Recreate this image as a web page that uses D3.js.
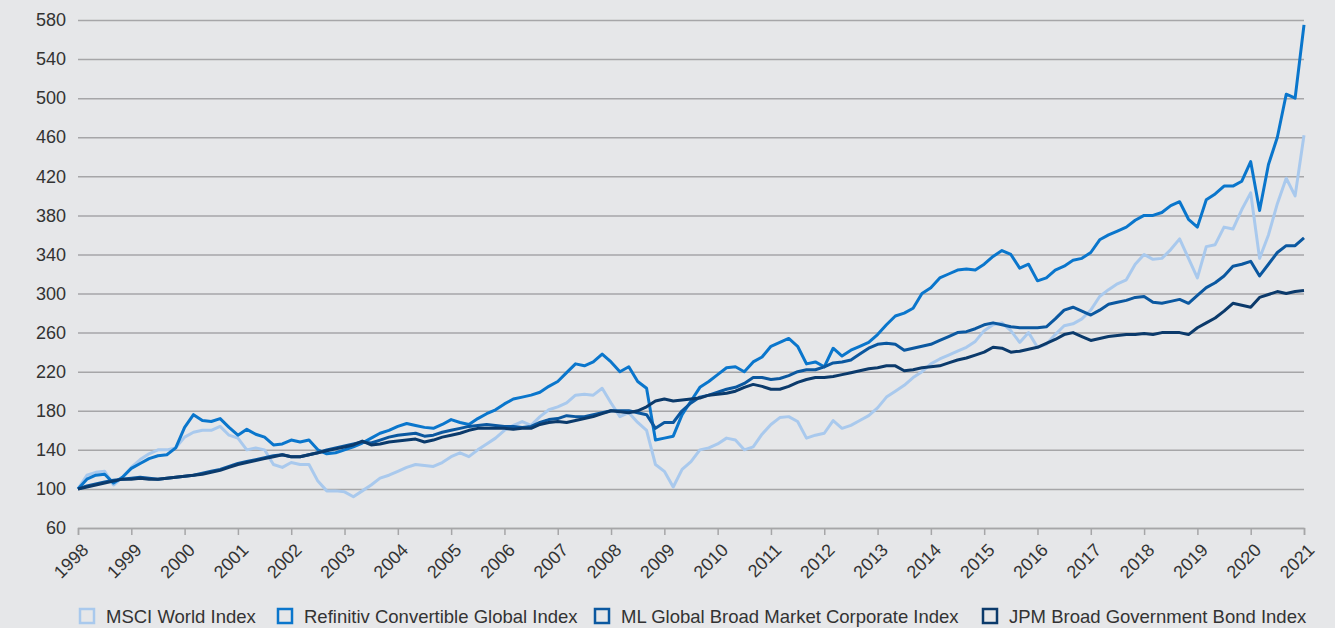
<!DOCTYPE html>
<html>
<head>
<meta charset="utf-8">
<script src="https://cdn.jsdelivr.net/npm/d3@7"></script>
<style>
  body { margin: 0; background: #e6e7e9; }
  svg { display: block; }
  .tick text { font-family: "Liberation Sans", Arial, sans-serif; font-size: 18px; fill: #333; }
  .legend text { font-family: "Liberation Sans", Arial, sans-serif; font-size: 18.5px; fill: #333; }
</style>
</head>
<body>
<svg id="chart" width="1335" height="628"></svg>
<script>

// year ticks and y ticks
var years = d3.range(1998, 2022);
var yTicks = [60, 100, 140, 180, 220, 260, 300, 340, 380, 420, 460, 500, 540, 580];

// sampled every two months, 1998 -> 2021
var dates = d3.range(0, 139).map(function(k) { return 1998 + k / 6; });

var msci = [100,114,117,118,104,112,122,130,136,140,140,142,153,158,160,160,164,155,152,140,142,140,125,122,127,125,125,108,98,98,
  97,92,98,104,111,114,118,122,125,124,123,127,133,137,133,140,146,152,160,165,169,165,174,181,184,188,196,197,196,203,
  188,174,178,168,160,125,118,102,120,128,140,142,146,152,150,140,143,156,166,173,174,169,152,155,157,170,162,165,170,175,
  183,194,200,206,214,220,228,233,237,241,245,251,262,268,270,262,250,260,245,248,258,267,269,274,283,297,304,310,314,330,
  340,335,336,345,356,336,316,348,350,368,366,386,403,336,360,392,418,400,462];

var conv = [100,110,114,115,106,112,121,126,131,134,135,142,163,176,170,169,172,163,155,161,156,153,145,146,150,148,150,140,136,137,
  140,143,147,152,157,160,164,167,165,163,162,166,171,168,166,172,177,181,187,192,194,196,199,205,210,219,228,226,230,238,
  230,220,225,210,203,150,152,154,176,190,204,210,217,224,225,220,230,235,246,250,254,246,228,230,225,244,236,242,246,250,
  258,268,277,280,285,300,306,316,320,324,325,324,330,338,344,340,326,330,313,316,324,328,334,336,342,355,360,364,368,375,
  380,380,383,390,394,376,368,396,402,410,410,415,435,385,432,460,504,500,575];

var ml = [100,103,105,107,109,110,111,112,111,110,111,112,113,114,116,118,120,123,126,128,130,132,134,135,133,133,135,137,140,142,
  144,146,148,147,150,153,155,156,157,154,155,158,160,162,164,165,166,165,164,164,163,164,168,171,172,175,174,174,176,178,
  180,180,180,178,176,162,168,168,180,188,194,196,199,202,204,208,214,214,212,213,216,220,222,222,225,229,230,232,238,244,
  248,249,248,242,244,246,248,252,256,260,261,264,268,270,268,266,265,265,265,266,274,283,286,282,278,283,289,291,293,296,
  297,291,290,292,294,290,298,306,311,318,328,330,333,318,330,342,349,349,357];

var jpm = [100,102,104,106,108,110,110,111,110,110,111,112,113,114,115,117,119,122,125,127,129,131,133,135,133,133,135,137,139,141,
  143,145,149,145,146,148,149,150,151,148,150,153,155,157,160,162,162,162,162,161,162,162,166,168,169,168,170,172,174,177,
  180,179,178,180,184,190,192,190,191,192,193,196,197,198,200,204,207,205,202,202,205,209,212,214,214,215,217,219,221,223,
  224,226,226,221,222,224,225,226,229,232,234,237,240,245,244,240,241,243,245,249,253,258,260,256,252,254,256,257,258,258,
  259,258,260,260,260,258,265,270,275,282,290,288,286,296,299,302,300,302,303];

var seriesNames = ["MSCI World Index", "Refinitiv Convertible Global Index", "ML Global Broad Market Corporate Index", "JPM Broad Government Bond Index"];
var seriesColors = ["#a9c9ed", "#0a76cc", "#0b58a0", "#0b3a6b"];
var seriesValues = [msci, conv, ml, jpm];

var svg = d3.select("#chart");

var x = d3.scaleLinear().domain([1998, 2021]).range([78, 1304]);
var y = d3.scaleLinear().domain([60, 580]).range([528, 20]);

svg.append("rect").attr("width", 1335).attr("height", 628).attr("fill", "#e6e7e9");

// horizontal grid + y labels
var yAxis = svg.append("g")
    .attr("transform", "translate(78,0)")
    .call(d3.axisLeft(y).tickValues(yTicks).tickSize(-1226).tickPadding(12).tickFormat(d3.format("d")));
yAxis.select(".domain").remove();
yAxis.selectAll(".tick line").attr("stroke", "#a6a6a8").attr("stroke-width", 1.5);

// x axis
var xAxis = svg.append("g")
    .attr("transform", "translate(0," + y(60) + ")")
    .call(d3.axisBottom(x).tickValues(years).tickSize(7).tickFormat(d3.format("d")));
xAxis.select(".domain").attr("stroke", "#a6a6a8").attr("stroke-width", 1.5);
xAxis.selectAll(".tick line").attr("stroke", "#a6a6a8").attr("stroke-width", 1.5);
xAxis.selectAll(".tick text")
    .attr("text-anchor", "end")
    .attr("dy", 0)
    .attr("transform", "translate(4,16) rotate(-45)");

var line = d3.line()
    .x(function(d, i) { return x(dates[i]); })
    .y(function(d) { return y(d); });

svg.append("g").selectAll("path")
    .data(seriesValues)
  .enter().append("path")
    .attr("d", line)
    .attr("fill", "none")
    .attr("stroke", function(d, i) { return seriesColors[i]; })
    .attr("stroke-width", 3)
    .attr("stroke-linejoin", "round");

// legend
var legendX = [80, 278, 595, 983];
var legend = svg.append("g").attr("class", "legend");
var items = legend.selectAll("g")
    .data(seriesNames)
  .enter().append("g")
    .attr("transform", function(d, i) { return "translate(" + legendX[i] + ",609)"; });
items.append("rect")
    .attr("width", 14).attr("height", 14)
    .attr("fill", "#e6e7e9")
    .attr("stroke", function(d, i) { return seriesColors[i]; })
    .attr("stroke-width", 2.5);
items.append("text")
    .attr("x", 26).attr("y", 14)
    .text(function(d) { return d; });

</script>
</body>
</html>
